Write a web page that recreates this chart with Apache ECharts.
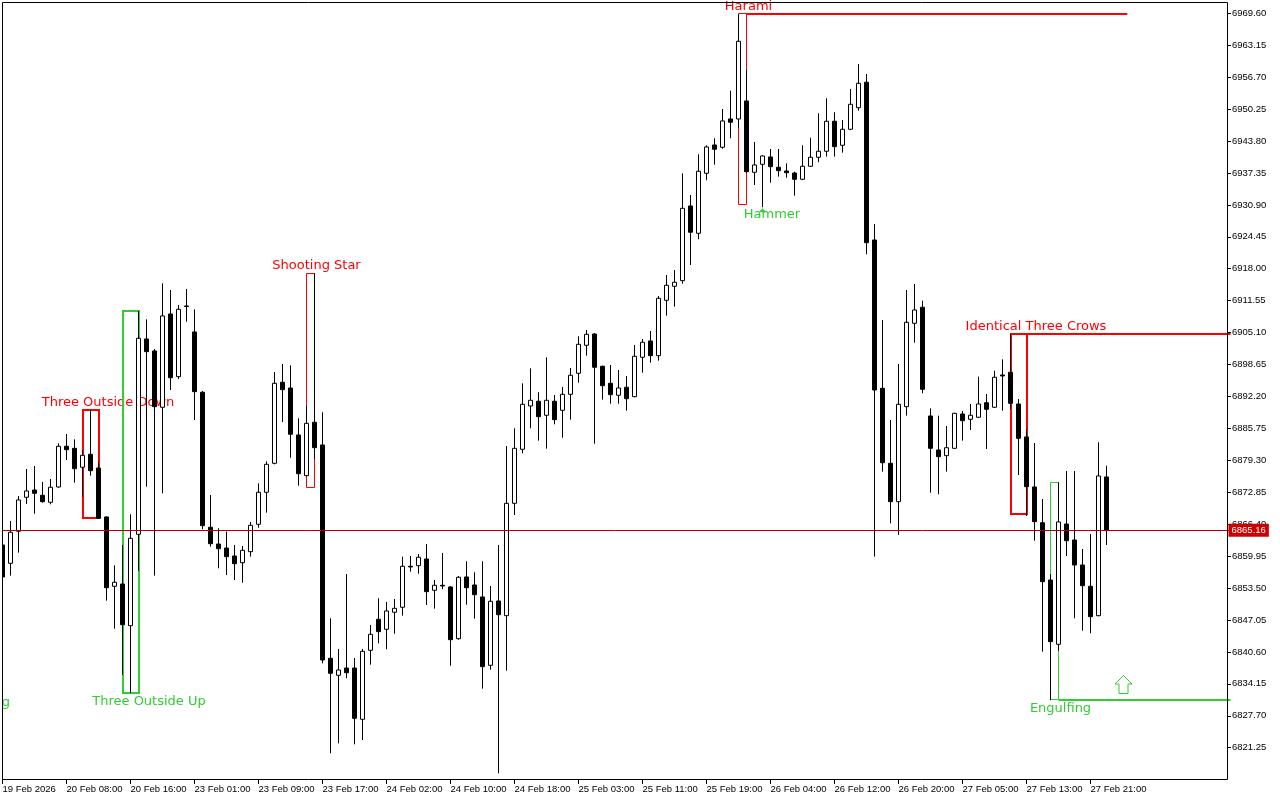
<!DOCTYPE html>
<html>
<head>
<meta charset="utf-8">
<title>H1 candles with patterns</title>
<script src="https://cdn.jsdelivr.net/npm/echarts@6/dist/echarts.min.js"></script>
<style>
  html, body { margin: 0; padding: 0; background: #fff; }
  #chart { width: 1280px; height: 800px; }
</style>
</head>
<body>
<div id="chart"></div>
<script>
// hourly bars, 19 Feb 23:00 -> 27 Feb 23:00
const opens = [
  6862.20, 6858.50, 6864.97, 6871.84, 6873.31, 6872.24, 6870.83, 6873.92, 6882.14, 6881.73,
  6877.90, 6880.52, 6877.75, 6867.86, 6853.86, 6854.32, 6845.90, 6864.36, 6903.81, 6901.39,
  6890.02, 6908.86, 6896.20, 6910.48, 6905.23, 6893.05, 6865.78, 6862.40, 6861.59, 6859.98,
  6858.62, 6860.85, 6866.38, 6872.85, 6878.70, 6895.07, 6893.91, 6884.42, 6876.20, 6886.99,
  6882.40, 6839.31, 6835.88, 6837.35, 6837.35, 6826.99, 6840.93, 6847.19, 6845.17, 6848.61,
  6849.62, 6857.90, 6858.02, 6859.37, 6853.05, 6854.06, 6853.72, 6843.27, 6855.74, 6854.12,
  6851.70, 6837.90, 6850.89, 6847.92, 6870.62, 6881.53, 6890.28, 6891.23, 6888.40, 6891.23,
  6889.41, 6892.64, 6896.88, 6902.54, 6904.82, 6898.30, 6894.86, 6892.44, 6894.06, 6892.16,
  6900.12, 6903.41, 6900.44, 6911.63, 6914.46, 6915.59, 6930.68, 6925.16, 6937.28, 6943.00,
  6942.54, 6948.25, 6948.25, 6951.89, 6937.49, 6939.10, 6940.58, 6938.50, 6937.75, 6937.34,
  6936.07, 6938.70, 6940.52, 6941.73, 6947.79, 6942.94, 6946.17, 6950.53, 6955.67, 6923.81,
  6893.85, 6878.70, 6870.95, 6890.14, 6906.98, 6910.22, 6888.26, 6881.39, 6880.24, 6881.73,
  6888.66, 6887.59, 6888.00, 6890.94, 6890.02, 6896.54, 6897.09, 6890.68, 6884.02, 6873.92,
  6866.70, 6855.13, 6842.14, 6866.44, 6863.21, 6858.16, 6853.86, 6847.92, 6875.94
];
const highs = [
  6863.21, 6867.05, 6872.10, 6877.55, 6878.16, 6874.93, 6875.53, 6882.74, 6884.62, 6883.55,
  6881.39, 6889.53, 6879.03, 6868.00, 6858.10, 6862.20, 6868.40, 6909.47, 6907.79, 6901.79,
  6915.06, 6913.71, 6910.68, 6913.91, 6909.81, 6893.30, 6872.30, 6865.57, 6864.89, 6862.20,
  6862.00, 6866.85, 6874.66, 6879.11, 6897.15, 6898.76, 6898.50, 6887.79, 6890.34, 6917.08,
  6889.01, 6847.39, 6841.19, 6856.34, 6839.37, 6841.19, 6846.04, 6851.43, 6850.69, 6851.29,
  6859.84, 6859.98, 6860.38, 6862.40, 6855.13, 6860.58, 6853.90, 6855.94, 6858.91, 6856.69,
  6858.91, 6853.92, 6862.20, 6882.20, 6885.77, 6894.86, 6897.89, 6893.05, 6900.12, 6892.50,
  6894.12, 6897.95, 6904.36, 6905.63, 6905.00, 6898.40, 6898.56, 6897.55, 6896.34, 6902.60,
  6903.81, 6905.43, 6912.50, 6916.74, 6917.75, 6937.28, 6932.90, 6941.12, 6942.94, 6944.35,
  6950.27, 6953.97, 6969.46, 6958.15, 6943.61, 6940.90, 6942.19, 6942.19, 6939.30, 6937.60,
  6942.94, 6944.47, 6949.40, 6952.43, 6949.61, 6948.05, 6954.31, 6959.36, 6957.34, 6927.04,
  6907.65, 6887.45, 6898.76, 6913.71, 6914.92, 6911.55, 6889.81, 6888.32, 6886.24, 6888.90,
  6889.27, 6890.68, 6896.20, 6892.70, 6897.41, 6899.71, 6904.82, 6891.69, 6885.63, 6882.80,
  6871.49, 6856.34, 6874.87, 6877.15, 6877.15, 6861.39, 6864.42, 6882.95, 6878.22
];
const lows = [
  6855.53, 6856.00, 6860.64, 6870.48, 6868.52, 6870.74, 6870.42, 6873.77, 6879.37, 6874.78,
  6871.96, 6876.20, 6867.50, 6850.95, 6845.29, 6835.94, 6832.24, 6856.95, 6873.98, 6856.00,
  6872.64, 6893.51, 6895.73, 6907.31, 6887.45, 6865.37, 6861.86, 6857.49, 6856.14, 6855.13,
  6854.58, 6859.84, 6865.69, 6868.72, 6878.50, 6887.05, 6879.83, 6874.18, 6876.10, 6879.57,
  6838.30, 6820.12, 6822.14, 6835.27, 6821.94, 6822.81, 6838.02, 6842.34, 6841.13, 6844.28,
  6847.92, 6856.81, 6856.40, 6850.08, 6849.33, 6853.25, 6837.82, 6843.07, 6850.14, 6847.31,
  6833.17, 6837.01, 6816.08, 6836.81, 6868.26, 6880.72, 6885.77, 6883.27, 6881.65, 6886.58,
  6883.87, 6887.51, 6894.98, 6900.44, 6882.66, 6891.55, 6890.74, 6890.74, 6889.33, 6892.04,
  6897.00, 6899.02, 6899.43, 6908.52, 6910.34, 6914.98, 6918.76, 6923.95, 6935.87, 6939.02,
  6942.25, 6944.35, 6946.49, 6937.34, 6934.92, 6930.42, 6935.38, 6936.60, 6936.39, 6932.76,
  6935.90, 6938.60, 6939.51, 6940.64, 6940.64, 6941.44, 6946.00, 6949.93, 6920.92, 6859.84,
  6877.01, 6866.58, 6864.22, 6888.32, 6903.06, 6892.84, 6872.76, 6872.44, 6877.01, 6881.60,
  6883.27, 6885.43, 6887.90, 6881.59, 6889.90, 6889.33, 6889.61, 6876.34, 6868.06, 6863.07,
  6840.65, 6830.89, 6840.79, 6859.98, 6847.39, 6844.89, 6844.36, 6847.80, 6862.20
];
const closes = [
  6855.74, 6864.77, 6871.29, 6873.11, 6872.64, 6870.95, 6873.86, 6882.14, 6881.45, 6877.61,
  6880.32, 6877.21, 6867.59, 6853.57, 6854.67, 6846.10, 6863.55, 6903.95, 6901.25, 6890.14,
  6908.46, 6895.99, 6909.81, 6910.38, 6893.17, 6866.10, 6862.46, 6861.45, 6859.84, 6858.42,
  6861.13, 6866.18, 6872.85, 6878.50, 6894.86, 6893.57, 6884.56, 6876.60, 6886.78, 6881.85,
  6838.97, 6836.28, 6836.95, 6836.40, 6827.19, 6840.73, 6844.16, 6844.69, 6848.87, 6849.41,
  6857.90, 6857.76, 6859.72, 6852.77, 6854.06, 6853.92, 6843.07, 6855.68, 6853.57, 6852.16,
  6837.62, 6850.83, 6848.12, 6870.62, 6881.73, 6890.62, 6891.43, 6888.12, 6891.43, 6887.51,
  6892.64, 6896.48, 6902.74, 6904.76, 6898.10, 6894.38, 6892.56, 6893.91, 6891.75, 6900.32,
  6903.15, 6900.44, 6912.03, 6914.66, 6915.27, 6930.21, 6925.37, 6937.69, 6942.60, 6942.13,
  6947.85, 6947.59, 6963.95, 6937.61, 6938.96, 6940.78, 6938.62, 6937.81, 6937.40, 6936.07,
  6938.70, 6940.52, 6941.73, 6947.79, 6942.66, 6946.17, 6951.22, 6955.46, 6923.26, 6893.51,
  6878.82, 6870.95, 6890.62, 6907.19, 6909.67, 6893.65, 6881.73, 6880.04, 6881.85, 6888.80,
  6887.31, 6888.40, 6890.68, 6889.61, 6896.08, 6896.34, 6890.82, 6883.75, 6873.98, 6866.91,
  6854.79, 6842.67, 6866.85, 6863.07, 6858.16, 6853.98, 6847.72, 6876.14, 6865.16
];
const lastPrice = 6865.16;

// one label every 8 bars
const timeLabels = [
  '19 Feb 2026', '20 Feb 08:00', '20 Feb 16:00', '23 Feb 01:00', '23 Feb 09:00', '23 Feb 17:00',
  '24 Feb 02:00', '24 Feb 10:00', '24 Feb 18:00', '25 Feb 03:00', '25 Feb 11:00', '25 Feb 19:00',
  '26 Feb 04:00', '26 Feb 12:00', '26 Feb 20:00', '27 Feb 05:00', '27 Feb 13:00', '27 Feb 21:00'
];
const priceTicks = [
  6821.25, 6827.70, 6834.15, 6840.60, 6847.05, 6853.50, 6859.95, 6866.40, 6872.85, 6879.30,
  6885.75, 6892.20, 6898.65, 6905.10, 6911.55, 6918.00, 6924.45, 6930.90, 6937.35, 6943.80,
  6950.25, 6956.70, 6963.15, 6969.60
];

// candle patterns found by the indicator
const patternNames = ['Three Outside Down', 'Three Outside Up', 'Shooting Star', 'Harami', 'Identical Three Crows', 'Engulfing'];
const patternFirstBar = [10, 15, 38, 92, 126, 131];
const patternLastBar = [12, 17, 39, 93, 128, 132];
const patternHigh = [6889.53, 6909.47, 6917.08, 6969.46, 6904.82, 6874.87];
const patternLow = [6867.71, 6832.30, 6873.85, 6930.88, 6868.40, 6830.89];
const patternBullish = [false, true, false, false, false, true];
const levelEndBar = [null, null, null, 140.6, null, null];

// single-bar signals
const signalNames = ['Hammer', 'Engulfing'];
const signalBars = [95, -3];
const signalPrices = [6930.42, 6830.30];
const arrowBar = 140;
const arrowPrice = 6835.94;

const RED = '#ff0000';
const GREEN = '#32cd32';
const LABEL_FONT = '13px "DejaVu Sans"';
const SLOTS = 154;

const patternStyle = {
  'Three Outside Down': { box: 2, dx: 9.5, level: false },
  'Three Outside Up': { box: 2, dx: 10.5, level: false },
  'Shooting Star': { box: 1, dx: 2, level: false },
  'Harami': { box: 1, dx: 2, level: true },
  'Identical Three Crows': { box: 2, dx: 9.5, level: true },
  'Engulfing': { box: 1, dx: 2, level: true }
};

function crisp(v, w) {
  return (w % 2) ? Math.round(v - 0.5) + 0.5 : Math.round(v);
}

// x of a fractional bar position (category coords only take whole bars)
function barX(api, bar, price) {
  const b = Math.floor(bar);
  const a = api.coord([b, price])[0];
  const c = api.coord([b + 1, price])[0];
  return a + (c - a) * (bar - b);
}

const categories = Array.from({ length: SLOTS }, (_, i) => String(i));
const candles = opens.map((o, i) => [o, closes[i], lows[i], highs[i]]);
const showLabel = (idx) => idx % 8 === 0 && idx / 8 < timeLabels.length;

const chart = echarts.init(document.getElementById('chart'), null, { renderer: 'canvas' });

chart.setOption({
  animation: false,
  backgroundColor: '#ffffff',
  grid: { left: -1.5, right: 49.5, top: 2, bottom: 21, containLabel: false, outerBoundsMode: 'none' },
  xAxis: {
    type: 'category',
    data: categories,
    boundaryGap: true,
    axisLine: { show: false },
    axisTick: { show: true, alignWithLabel: true, interval: showLabel, length: 5, lineStyle: { color: '#000' } },
    axisLabel: {
      interval: showLabel,
      formatter: (v, idx) => timeLabels[idx / 8] || '',
      align: 'left',
      margin: 5,
      color: '#000',
      fontFamily: 'Liberation Sans',
      fontSize: 9.5,
      hideOverlap: false
    },
    splitLine: { show: false }
  },
  yAxis: {
    type: 'value',
    position: 'right',
    offset: -3.5,
    min: 6814.93,
    max: 6971.88,
    splitLine: { show: false },
    axisLine: { show: false },
    axisTick: { show: true, length: 4, customValues: priceTicks, lineStyle: { color: '#000' } },
    axisLabel: {
      customValues: priceTicks,
      formatter: (v) => v.toFixed(2),
      margin: 5,
      color: '#000',
      fontFamily: 'Liberation Sans',
      fontSize: 9.5
    }
  },
  series: [
    {
      type: 'candlestick',
      data: candles,
      barWidth: 4,
      silent: true,
      clip: true,
      itemStyle: { color: '#ffffff', color0: '#000000', borderColor: '#000000', borderColor0: '#000000', borderWidth: 1 },
      markLine: {
        silent: true,
        symbol: ['none', 'none'],
        lineStyle: { color: '#b00000', width: 1, type: 'solid' },
        label: {
          position: 'end',
          distance: -2,
          formatter: lastPrice.toFixed(2),
          backgroundColor: '#cc0000',
          color: '#ffffff',
          padding: [2, 3, 1, 3],
          fontFamily: 'Liberation Sans',
          fontSize: 9.5
        },
        data: [{ yAxis: lastPrice }]
      },
      z: 3
    },
    {
      // pattern boxes, level lines and names
      type: 'custom',
      silent: true,
      clip: false,
      z: 2,
      encode: { x: [0, 1], y: [2, 3] },
      data: patternNames.map((n, i) => [patternFirstBar[i], patternLastBar[i], patternHigh[i], patternLow[i], i]),
      renderItem(params, api) {
        const i = api.value(4);
        const name = patternNames[i];
        const st = patternStyle[name];
        const color = patternBullish[i] ? GREEN : RED;
        const tl = api.coord([api.value(0), api.value(2)]);
        const br = api.coord([api.value(1), api.value(3)]);
        const w = st.box;
        const x0 = crisp(tl[0], w), y0 = crisp(tl[1], w);
        const x1 = crisp(br[0], w), y1 = crisp(br[1], w);
        const children = [{
          type: 'rect',
          shape: { x: x0, y: y0, width: x1 - x0, height: y1 - y0 },
          style: { fill: null, stroke: color, lineWidth: w }
        }];
        if (st.level) {
          const ly = patternBullish[i] ? crisp(br[1], 2) : crisp(tl[1], 2);
          const end = levelEndBar[i] != null
            ? barX(api, levelEndBar[i], api.value(2))
            : params.coordSys.x + params.coordSys.width;
          children.push({
            type: 'line',
            shape: { x1: x1, y1: ly, x2: end, y2: ly },
            style: { stroke: color, lineWidth: 2 }
          });
        }
        children.push({
          type: 'text',
          style: {
            text: name,
            x: br[0] + st.dx,
            y: patternBullish[i] ? br[1] + 9 : tl[1] - 7.5,
            fill: color,
            font: LABEL_FONT,
            align: 'center',
            verticalAlign: 'middle'
          }
        });
        return { type: 'group', children };
      }
    },
    {
      // hammer mark and a label cut by the left edge
      type: 'custom',
      silent: true,
      clip: false,
      z: 4,
      encode: { x: 0, y: 1 },
      data: signalNames.map((n, i) => [signalBars[i], signalPrices[i], i]),
      renderItem(params, api) {
        const i = api.value(2);
        const p = api.coord([api.value(0), api.value(1)]);
        const children = [];
        if (signalNames[i] === 'Hammer') {
          children.push({
            type: 'polygon',
            shape: { points: [[p[0], p[1] + 1], [p[0] + 3.5, p[1] + 5], [p[0] - 3.5, p[1] + 5]] },
            style: { fill: GREEN }
          });
          children.push({
            type: 'text',
            style: { text: 'Hammer', x: p[0] + 9.5, y: p[1] + 7, fill: GREEN, font: LABEL_FONT, align: 'center', verticalAlign: 'middle' }
          });
        } else {
          children.push({
            type: 'text',
            style: { text: signalNames[i], x: p[0] + 1, y: p[1], fill: GREEN, font: LABEL_FONT, align: 'center', verticalAlign: 'middle' }
          });
        }
        return { type: 'group', children };
      }
    },
    {
      // buy arrow after the engulfing
      type: 'custom',
      silent: true,
      clip: false,
      z: 4,
      encode: { x: 0, y: 1 },
      data: [[arrowBar, arrowPrice]],
      renderItem(params, api) {
        const p = api.coord([api.value(0), api.value(1)]);
        const cx = Math.round(p[0]) + 0.5;
        const ty = Math.round(p[1]) + 0.5;
        return {
          type: 'polygon',
          shape: {
            points: [
              [cx, ty], [cx + 8.5, ty + 8.5], [cx + 4.5, ty + 8.5], [cx + 4.5, ty + 18],
              [cx - 4.5, ty + 18], [cx - 4.5, ty + 8.5], [cx - 8.5, ty + 8.5]
            ]
          },
          style: { fill: null, stroke: GREEN, lineWidth: 1 }
        };
      }
    }
  ],
  graphic: [
    { type: 'rect', z: 100, shape: { x: 0, y: 0, width: 2, height: 800 }, style: { fill: '#ffffff' } },
    { type: 'rect', z: 100, shape: { x: 2.5, y: 2.5, width: 1225, height: 777 }, style: { fill: null, stroke: '#000', lineWidth: 1 } }
  ]
});
</script>
</body>
</html>
